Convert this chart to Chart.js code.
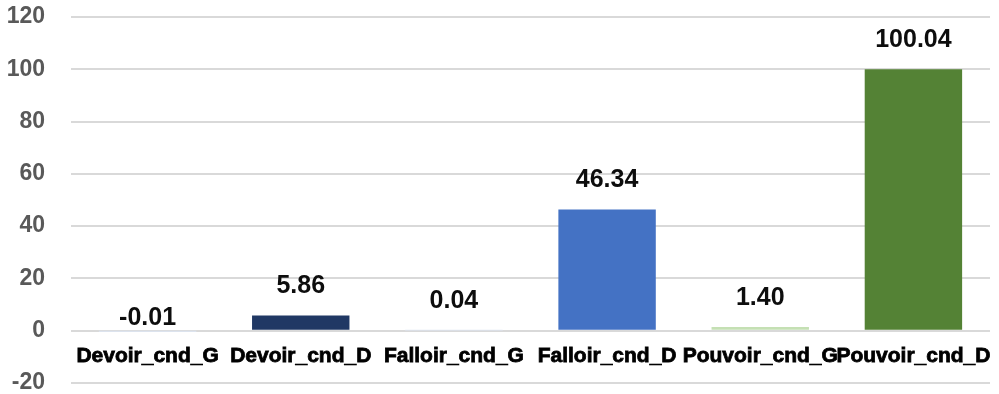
<!DOCTYPE html>
<html>
<head>
<meta charset="utf-8">
<script src="https://cdn.jsdelivr.net/npm/chart.js@4"></script>
<style>
  html, body { margin: 0; padding: 0; background: #ffffff; }
  #wrap { width: 999px; height: 394px; }
</style>
</head>
<body>
<div id="wrap"><canvas id="chart" width="999" height="394"></canvas></div>
<script>
// Categories and the value of each bar
const categories = ['Devoir_cnd_G', 'Devoir_cnd_D', 'Falloir_cnd_G', 'Falloir_cnd_D', 'Pouvoir_cnd_G', 'Pouvoir_cnd_D'];
const values = [-0.01, 5.86, 0.04, 46.34, 1.40, 100.04];
const barColors = ['#DDE6F4', '#203864', '#DDE6F4', '#4472C4', '#C5E0B4', '#548235'];
const yTicks = [-20, 0, 20, 40, 60, 80, 100, 120];

// Value labels drawn above each bar
const valueLabels = {
  id: 'valueLabels',
  afterDatasetsDraw(chart) {
    const ctx = chart.ctx;
    const meta = chart.getDatasetMeta(0);
    const ds = chart.data.datasets[0];
    ctx.save();
    ctx.font = 'bold 25px "Liberation Sans", Arial, sans-serif';
    ctx.fillStyle = '#0d0d0d';
    ctx.textAlign = 'center';
    ctx.textBaseline = 'middle';
    meta.data.forEach((bar, i) => {
      const v = ds.data[i];
      const top = Math.min(bar.y, bar.base);
      const y = v >= 0 ? top - 29 : bar.base - 14;
      ctx.fillText(v.toFixed(2), bar.x, y);
    });
    ctx.restore();
  }
};

new Chart(document.getElementById('chart'), {
  type: 'bar',
  data: {
    labels: categories,
    datasets: [{
      data: values,
      backgroundColor: barColors,
      borderWidth: 0,
      barPercentage: 0.636,
      categoryPercentage: 1.0
    }]
  },
  options: {
    responsive: false,
    animation: false,
    layout: { padding: { top: 17, right: 9, bottom: 11, left: 0 } },
    plugins: {
      legend: { display: false },
      tooltip: { enabled: false }
    },
    scales: {
      x: {
        // category names sit just under the zero line, inside the plot
        position: { y: 0 },
        afterFit(scale) {
          scale.height = 0;
          scale.paddingLeft = 0;
          scale.paddingRight = 0;
        },
        grid: { display: false, drawTicks: false },
        border: { display: false },
        ticks: {
          autoSkip: false,
          maxRotation: 0,
          minRotation: 0,
          padding: 13,
          color: '#000000',
          textStrokeColor: '#000000',
          textStrokeWidth: 0.8,
          font: { family: '"Liberation Sans", Arial, sans-serif', size: 21, weight: 'bold' }
        }
      },
      y: {
        min: yTicks[0],
        max: yTicks[yTicks.length - 1],
        afterFit(scale) {
          scale.width = 71;
          scale.paddingTop = 0;
          scale.paddingBottom = 0;
        },
        afterBuildTicks(scale) { scale.ticks = yTicks.map(v => ({ value: v })); },
        grid: { color: '#D9D9D9', lineWidth: 2, drawTicks: false },
        border: { display: false },
        ticks: {
          padding: 26,
          color: '#595959',
          font: { family: '"Liberation Sans", Arial, sans-serif', size: 23, weight: 'bold' }
        }
      }
    }
  },
  plugins: [valueLabels]
});
</script>
</body>
</html>
